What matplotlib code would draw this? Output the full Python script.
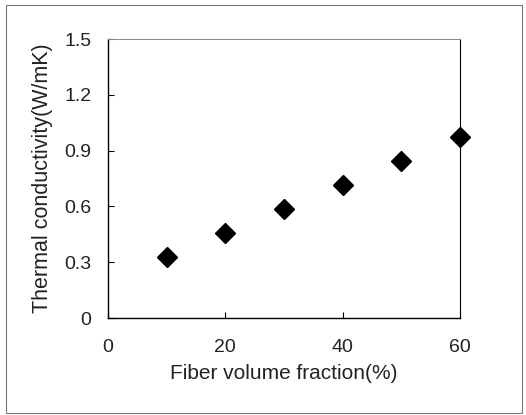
import matplotlib
matplotlib.use("Agg")
import matplotlib.pyplot as plt
from matplotlib.patches import Rectangle

# dados
fibra = [10, 20, 30, 40, 50, 60]
condutividade = [0.326, 0.455, 0.584, 0.715, 0.846, 0.975]

xticks = [0, 20, 40, 60]
yticks = [0, 0.3, 0.6, 0.9, 1.2, 1.5]
ylabels = ["0", "0.3", "0.6", "0.9", "1.2", "1.5"]

plt.rcParams['font.family'] = ['Liberation Sans', 'DejaVu Sans']

fig = plt.figure(figsize=(5.26, 4.15), dpi=100)
ax = fig.add_axes([108/526, 1 - 318/415, (460-108)/526, (318-39)/415])

ax.plot(fibra, condutividade, linestyle='none', marker='D', markersize=10,
        color='black', clip_on=False, zorder=3)

ax.set_xlim(0, 60)
ax.set_ylim(0, 1.5)
ax.set_xticks(xticks)
ax.set_yticks(yticks)
ax.set_yticklabels(ylabels)
ax.tick_params(direction='in', length=4, width=0.8, labelsize=14,
               colors='black', labelcolor='#222222')
ax.tick_params(axis='x', pad=15)
ax.tick_params(axis='y', pad=12)

for s in ax.spines.values():
    s.set_linewidth(1.0)
ax.spines['top'].set_color('#888888')
ax.spines['top'].set_linewidth(0.7)
ax.spines['right'].set_linewidth(0.8)

ax.set_xlabel("Fiber volume fraction(%)", fontsize=15, labelpad=6, color='#222222')
ax.set_ylabel("Thermal conductivity(W/mK)", fontsize=15.5, labelpad=8, color='#222222')

# moldura externa da figura
fig.patches.append(Rectangle((6/526, 1 - 413/415), 516/526, 408/415,
                             transform=fig.transFigure, fill=False,
                             edgecolor='#777777', linewidth=0.8))

fig.savefig('out.png', dpi=100)
